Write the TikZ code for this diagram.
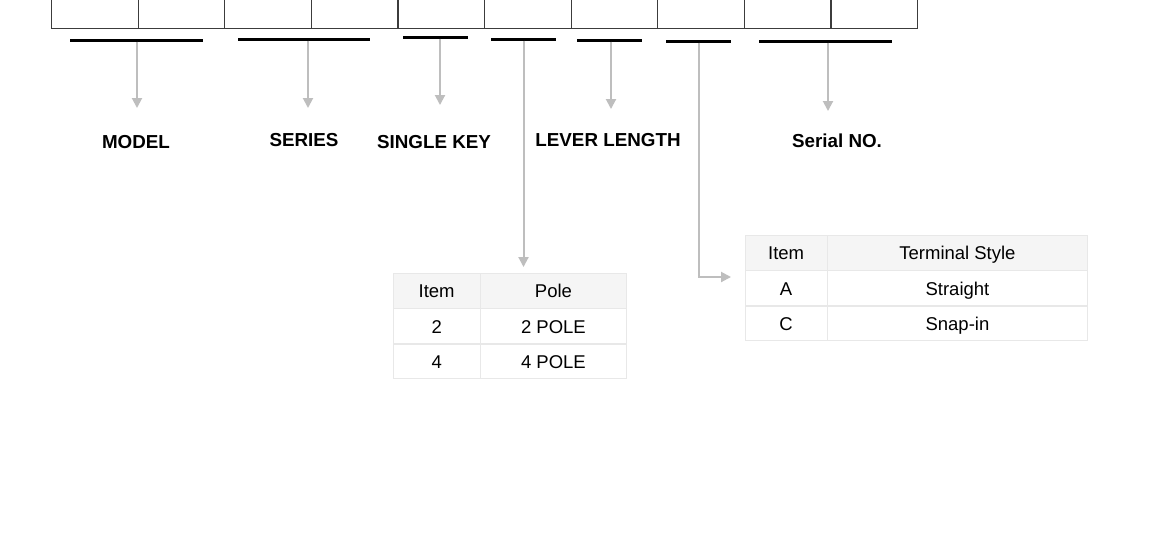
\documentclass[tikz,border=0pt]{standalone}
\usepackage{fontspec}
\setmainfont{Liberation Sans}
\usetikzlibrary{
	positioning		% right=0pt of x style placement
	, arrows.meta		% Triangle tips
}
\definecolor{boxline}{RGB}{60,60,60}
\definecolor{pointergray}{RGB}{190,190,190}
\definecolor{gridline}{RGB}{232,232,232}
\definecolor{headfill}{RGB}{245,245,245}

\begin{document}
\begin{tikzpicture}[x=1pt, y=-1pt
		, cell/.style={draw=boxline, line width=1.1pt, minimum width=86.6pt, minimum height=80pt, inner sep=0pt, anchor=south west}
		, bar/.style={fill=black, inner sep=0pt, minimum height=3pt}
		, pointer/.style={draw=pointergray, line width=2pt, -{Triangle[width=10pt,length=10pt]}}
		, caption/.style={font=\bfseries\fontsize{18.8}{22}\selectfont}
		, tablecell/.style={draw=gridline, line width=0.8pt, minimum height=34.6pt, inner sep=0pt, text height=15.5pt, text depth=1.5pt, font=\fontsize{18.5}{22}\selectfont}
		, headcell/.style={tablecell, fill=headfill}]

		%%% Page
		\path[fill=white] (0,0) rectangle (1150,542);
		\path[clip] (0,0) rectangle (1150,542);

		%%% Code boxes along the top (cut by the page edge)
		\foreach \i in {1,...,10} {
			\node[cell] (box\i) at ({51+86.6*(\i-1)}, 29) {};
		};

		%%% Group bars, their pointers and the group names
		\foreach [count=\i] \xa/\xb/\yb/\xp/\ye in {70/203/40/137/108, 238/370/39/308/108, 403/468/37/440/105,
				491/556/39/523/250, 577/642/40/611/109, 666/731/41/699/250, 759/892/41/828/111} {

			% Thick bar under the grouped boxes
			\node[bar, minimum width={(\xb-\xa)*1pt}] (bar\i) at ({(\xa+\xb)/2}, \yb) {};
			\coordinate (tip\i) at (\xp, \ye);
		};

		%% Short pointers down to the names
		\foreach \i in {1,2,3,5,7} {
			\draw[pointer] (bar\i.south -| tip\i) -- (tip\i);
		};

		\node[caption] (model) at (136, 142) {MODEL};
		\node[caption] (series) at (304, 140) {SERIES};
		\node[caption] (singlekey) at (434, 142) {SINGLE KEY};
		\node[caption] (leverlength) at (608, 140) {LEVER LENGTH};
		\node[caption] (serialno) at (837, 141) {Serial NO.};

		%%% Pole table
		\node[headcell, minimum width=86.5pt, anchor=north west] (poleitem) at (393, 273) {Item};
		\node[headcell, minimum width=145.5pt, right=0pt of poleitem] (polename) {Pole};
		\node[tablecell, minimum width=86.5pt, below=0pt of poleitem] (poletwo) {2};
		\node[tablecell, minimum width=145.5pt, right=0pt of poletwo] (poletwoname) {2 POLE};
		\node[tablecell, minimum width=86.5pt, below=0pt of poletwo] (polefour) {4};
		\node[tablecell, minimum width=145.5pt, right=0pt of polefour] (polefourname) {4 POLE};

		%%% Terminal style table
		\node[headcell, minimum width=81.5pt, anchor=north west] (termitem) at (745, 235) {Item};
		\node[headcell, minimum width=259.5pt, right=0pt of termitem] (termname) {Terminal Style};
		\node[tablecell, minimum width=81.5pt, below=0pt of termitem] (terma) {A};
		\node[tablecell, minimum width=259.5pt, right=0pt of terma] (termaname) {Straight};
		\node[tablecell, minimum width=81.5pt, below=0pt of terma] (termc) {C};
		\node[tablecell, minimum width=259.5pt, right=0pt of termc] (termcname) {Snap-in};

		%%% Long pointers to the tables
		\draw[pointer, shorten >=6pt] (bar4.south) -- (bar4.south |- poleitem.north);
		\coordinate (termin) at (731, 277);
		\draw[pointer] (bar6.south) |- (termin);
	\end{tikzpicture}
\end{document}
